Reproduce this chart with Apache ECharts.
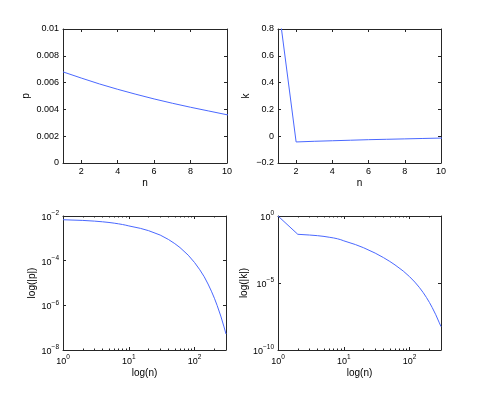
<!DOCTYPE html>
<html>
<head>
<meta charset="utf-8">
<title>p / k</title>
<script src="https://cdn.jsdelivr.net/npm/echarts@6/dist/echarts.min.js"></script>
<style>
  html, body { margin: 0; padding: 0; background: #fff; }
  #chart { width: 487px; height: 394px; }
</style>
</head>
<body>
<div id="chart"></div>
<script>
// n values (top plots only show 1..10, the log plots go up to 300)
const nList = [1, 2, 3, 4, 5, 6, 7, 8, 9, 10, 15, 20, 30, 40, 50, 60, 80, 100, 120, 140, 160, 180, 200, 220, 250, 280, 300]
const pList = [0.0068, 0.00634, 0.0059, 0.0055, 0.00513, 0.00478, 0.00446, 0.00416, 0.00388, 0.0036,
  2.8e-3, 2.2e-3, 1.4e-3, 8.9e-4, 5.8e-4, 3.85e-4, 1.76e-4, 8.2e-5, 3.9e-5, 1.9e-5, 9.0e-6, 4.3e-6, 2.07e-6, 9.9e-7, 3.3e-7, 1.08e-7, 5.2e-8]
const kList = [1, -0.043, -0.038, -0.034, -0.030, -0.026, -0.023, -0.020, -0.017, -0.014,
  -7.4e-3, -4.27e-3, -1.7e-3, -7.9e-4, -4.07e-4, -2.24e-4, -7.8e-5, -2.95e-5, -1.17e-5, -4.8e-6, -2.0e-6, -8.4e-7, -3.55e-7, -1.51e-7, -4.27e-8, -1.2e-8, -5.6e-9]

// tick labels
const nTicks = [2, 4, 6, 8, 10]
const pTicks = [0, 0.002, 0.004, 0.006, 0.008, 0.01]
const kTicks = [-0.2, 0, 0.2, 0.4, 0.6, 0.8]
const logNTicks = [1, 10, 100]
const logNMinor = [2, 3, 4, 5, 6, 7, 8, 9, 20, 30, 40, 50, 60, 70, 80, 90, 200, 300]
const logPTicks = [1e-8, 1e-6, 1e-4, 1e-2]
const logKTicks = [1e-10, 1e-5, 1]

const font = 'Liberation Sans, Arial, sans-serif'
const axisColor = '#262626'
const lineColor = '#4a68ff'

const minus = s => String(s).replace('-', '\u2212')
const powLabel = v => '{b|10}{e|' + minus(Math.round(Math.log10(v))) + '}'

const supRich = {
  b: { fontFamily: font, fontSize: 9, color: '#000', verticalAlign: 'bottom' },
  e: { fontFamily: font, fontSize: 6.5, color: '#000', verticalAlign: 'bottom', padding: [0, 0, 5, 0] }
}

function makeAxis(o) {
  return {
    type: o.type || 'value',
    gridIndex: o.grid,
    position: o.position,
    min: o.min,
    max: o.max,
    name: o.name || '',
    nameLocation: 'middle',
    nameGap: o.nameGap || 0,
    nameTextStyle: { fontFamily: font, fontSize: 10, color: '#000' },
    splitLine: { show: false },
    minorTick: { show: false },
    axisLine: { show: o.line !== false, onZero: false, lineStyle: { color: axisColor, width: 1 } },
    axisTick: { show: true, inside: true, length: o.tickLen || 3, customValues: o.ticks, lineStyle: { color: axisColor } },
    axisLabel: {
      show: !!o.label,
      customValues: o.ticks,
      formatter: o.formatter,
      fontFamily: font,
      fontSize: 9,
      color: '#000',
      margin: 4,
      rich: supRich
    }
  }
}

const xAxes = [
  // top-left
  makeAxis({ grid: 0, position: 'bottom', min: 1, max: 10, ticks: nTicks, label: true, name: 'n', nameGap: 15 }),
  makeAxis({ grid: 0, position: 'top', min: 1, max: 10, ticks: nTicks }),
  // top-right
  makeAxis({ grid: 1, position: 'bottom', min: 1, max: 10, ticks: nTicks, label: true, name: 'n', nameGap: 15 }),
  makeAxis({ grid: 1, position: 'top', min: 1, max: 10, ticks: nTicks }),
  // bottom-left
  makeAxis({ grid: 2, type: 'log', position: 'bottom', min: 1, max: 300, ticks: logNTicks, label: true, formatter: powLabel, name: 'log(n)', nameGap: 18 }),
  makeAxis({ grid: 2, type: 'log', position: 'bottom', min: 1, max: 300, ticks: logNMinor, line: false, tickLen: 1.5 }),
  makeAxis({ grid: 2, type: 'log', position: 'top', min: 1, max: 300, ticks: logNTicks }),
  makeAxis({ grid: 2, type: 'log', position: 'top', min: 1, max: 300, ticks: logNMinor, line: false, tickLen: 1.5 }),
  // bottom-right
  makeAxis({ grid: 3, type: 'log', position: 'bottom', min: 1, max: 300, ticks: logNTicks, label: true, formatter: powLabel, name: 'log(n)', nameGap: 18 }),
  makeAxis({ grid: 3, type: 'log', position: 'bottom', min: 1, max: 300, ticks: logNMinor, line: false, tickLen: 1.5 }),
  makeAxis({ grid: 3, type: 'log', position: 'top', min: 1, max: 300, ticks: logNTicks }),
  makeAxis({ grid: 3, type: 'log', position: 'top', min: 1, max: 300, ticks: logNMinor, line: false, tickLen: 1.5 })
]

const yAxes = [
  makeAxis({ grid: 0, position: 'left', min: 0, max: 0.01, ticks: pTicks, label: true, name: 'p', nameGap: 32 }),
  makeAxis({ grid: 0, position: 'right', min: 0, max: 0.01, ticks: pTicks }),
  makeAxis({ grid: 1, position: 'left', min: -0.2, max: 0.8, ticks: kTicks, label: true, formatter: v => minus(v), name: 'k', nameGap: 27 }),
  makeAxis({ grid: 1, position: 'right', min: -0.2, max: 0.8, ticks: kTicks }),
  makeAxis({ grid: 2, type: 'log', position: 'left', min: 1e-8, max: 1e-2, ticks: logPTicks, label: true, formatter: powLabel, name: 'log(|p|)', nameGap: 25 }),
  makeAxis({ grid: 2, type: 'log', position: 'right', min: 1e-8, max: 1e-2, ticks: logPTicks }),
  makeAxis({ grid: 3, type: 'log', position: 'left', min: 1e-10, max: 1, ticks: logKTicks, label: true, formatter: powLabel, name: 'log(|k|)', nameGap: 29 }),
  makeAxis({ grid: 3, type: 'log', position: 'right', min: 1e-10, max: 1, ticks: logKTicks })
]

const lineSeries = (xi, yi, ys) => ({
  type: 'line',
  xAxisIndex: xi,
  yAxisIndex: yi,
  data: nList.map((n, i) => [n, ys[i]]),
  showSymbol: false,
  clip: true,
  silent: true,
  lineStyle: { color: lineColor, width: 1 }
})

const myChart = echarts.init(document.getElementById('chart'), null, { renderer: 'canvas' })
const option = {
  animation: false,
  backgroundColor: '#fff',
  grid: [
    { left: 63, top: 29, width: 164, height: 134, outerBoundsMode: 'none' },
    { left: 278, top: 29, width: 163, height: 134, outerBoundsMode: 'none' },
    { left: 63, top: 216, width: 163, height: 134, outerBoundsMode: 'none' },
    { left: 278, top: 216, width: 163, height: 134, outerBoundsMode: 'none' }
  ],
  xAxis: xAxes,
  yAxis: yAxes,
  series: [
    lineSeries(0, 0, pList),
    lineSeries(2, 2, kList),
    lineSeries(4, 4, pList.map(Math.abs)),
    lineSeries(8, 6, kList.map(Math.abs))
  ]
}
option && myChart.setOption(option)
</script>
</body>
</html>
